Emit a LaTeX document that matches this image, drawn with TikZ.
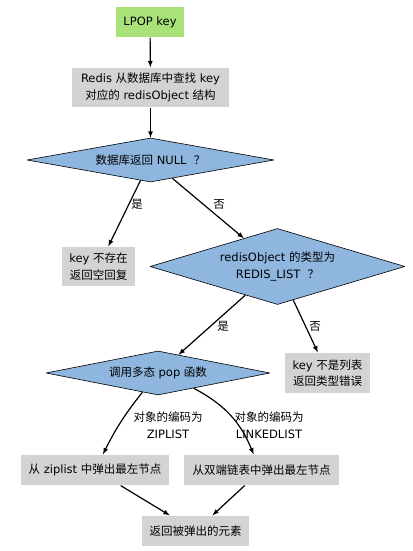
\documentclass[tikz,border=0pt]{standalone}
\usepackage{fontspec}
\setmainfont{DejaVu Sans}
\newfontfamily\cjk{Noto Sans CJK SC}
\newcommand{\zh}[1]{{\cjk #1}}
\usetikzlibrary{arrows,shapes.geometric}
\definecolor{startcol}{RGB}{168,226,120}
\definecolor{boxcol}{RGB}{211,211,211}
\definecolor{testcol}{RGB}{143,182,222}

\begin{document}
\begin{tikzpicture}[>=latex,line join=bevel,
  every node/.style={font=\fontsize{11.5bp}{16.5bp}\selectfont,align=center},
  startbox/.style={fill=startcol,inner sep=0pt,minimum width=68bp,minimum height=30bp},
  stepbox/.style={fill=boxcol,inner sep=0pt},
  testbox/.style={diamond,draw=black,fill=testcol,inner sep=0pt,line width=0.6bp},
  elabel/.style={inner sep=0pt}]
  \pgfsetlinewidth{1.2bp}
\useasboundingbox (0bp,0bp) rectangle (413bp,551bp);
%%
\pgfsetcolor{black}
  % Node: lpop
  \node[startbox] (lpop) at (150bp,529bp) {LPOP key};
  % Node: lookup
  \node[stepbox,minimum width=157bp,minimum height=39bp] (lookup) at (150.5bp,463.5bp)
    {Redis \zh{从数据库中查找} key\\\zh{对应的} redisObject \zh{结构}};
  % Node: isnull
  \node[testbox,shape aspect=5.6,minimum width=247bp,minimum height=44bp] (isnull) at (150.5bp,391bp)
    {\zh{数据库返回} NULL\ \ \zh{？}};
  % Node: nokey
  \node[stepbox,minimum width=73bp,minimum height=39bp] (nokey) at (98.5bp,284.5bp)
    {key \zh{不存在}\\\zh{返回空回复}};
  % Node: islist
  \node[testbox,shape aspect=3.35,minimum width=255bp,minimum height=76bp] (islist) at (277.5bp,284.5bp)
    {redisObject \zh{的类型为}\\REDIS\_LIST\ \ \zh{？}};
  % Node: notlist
  \node[stepbox,minimum width=85bp,minimum height=40bp] (notlist) at (327.5bp,178bp)
    {key \zh{不是列表}\\\zh{返回类型错误}};
  % Node: dispatch
  \node[testbox,shape aspect=5.1,minimum width=224bp,minimum height=44bp] (dispatch) at (158bp,178bp)
    {\zh{调用多态} pop \zh{函数}};
  % Node: ziplist
  \node[stepbox,minimum width=148bp,minimum height=30bp] (ziplist) at (95bp,81bp)
    {\zh{从} ziplist \zh{中弹出最左节点}};
  % Node: linked
  \node[stepbox,minimum width=155bp,minimum height=30bp] (linked) at (261.5bp,81bp)
    {\zh{从双端链表中弹出最左节点}};
  % Node: result
  \node[stepbox,minimum width=107bp,minimum height=30bp] (result) at (195.5bp,20bp)
    {\zh{返回被弹出的元素}};
%
  % Edge: lpop -> lookup
  \draw [->] (lpop) -- (lookup);
  % Edge: lookup -> isnull
  \draw [->] (lookup) -- (isnull);
  % Edge: isnull -> nokey
  \draw [->] (isnull) -- (nokey);
  \node[elabel] (yesnull) at (137bp,347bp) {\zh{是}};
  % Edge: isnull -> islist
  \draw [->] (isnull) -- (islist);
  \node[elabel] (nonull) at (219bp,347bp) {\zh{否}};
  % Edge: islist -> dispatch
  \draw [->] (islist) -- (dispatch);
  \node[elabel] (yeslist) at (223bp,225bp) {\zh{是}};
  % Edge: islist -> notlist
  \draw [->] (islist) -- (notlist);
  \node[elabel] (nolist) at (315bp,225bp) {\zh{否}};
  % Edge: dispatch -> ziplist
  \draw [->] (dispatch) to[bend right=6] (ziplist);
  \node[elabel] (zipenc) at (168bp,126bp) {\zh{对象的编码为}\\ZIPLIST};
  % Edge: dispatch -> linked
  \draw [->] (dispatch) to[bend left=20] (linked);
  \node[elabel] (linkenc) at (269bp,126bp) {\zh{对象的编码为}\\LINKEDLIST};
  % Edge: ziplist -> result
  \draw [->] (ziplist) -- (result);
  % Edge: linked -> result
  \draw [->] (linked) -- (result);
%
\end{tikzpicture}
\end{document}
